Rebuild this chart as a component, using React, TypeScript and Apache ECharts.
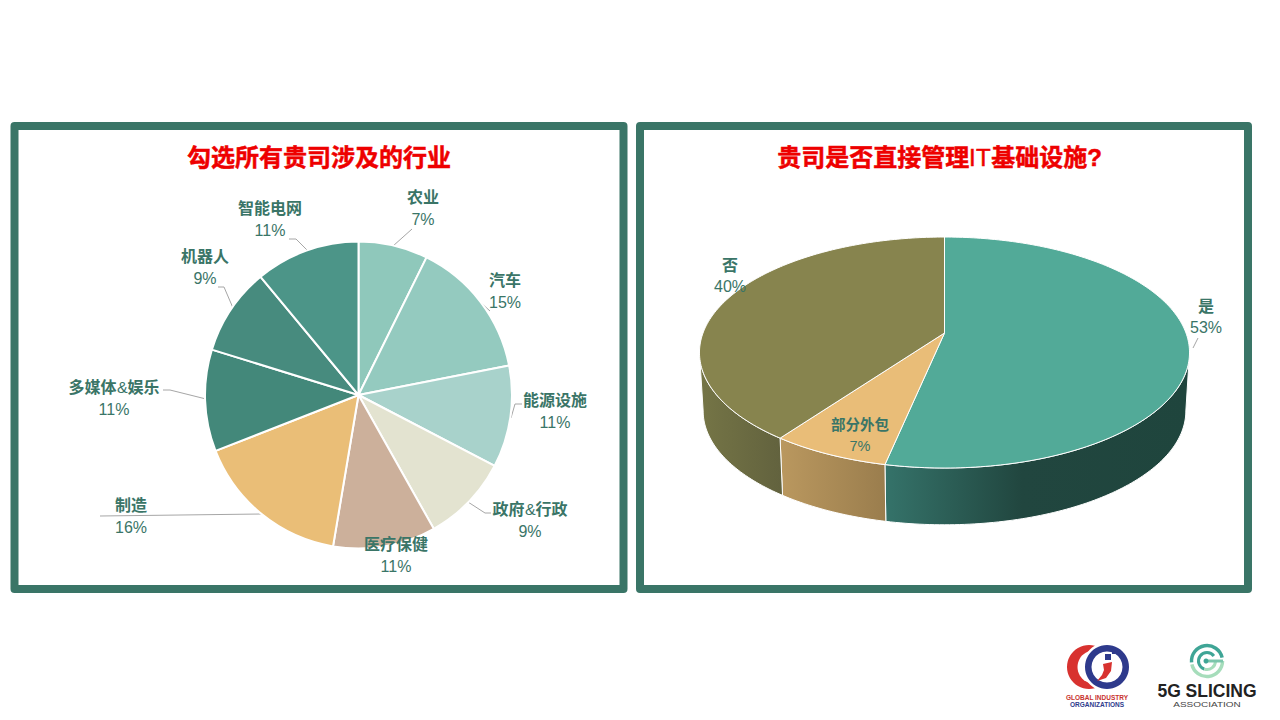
import React, { useEffect, useRef } from "react";
import * as echarts from "echarts";

const industryNames = ["农业", "汽车", "能源设施", "政府&行政", "医疗保健", "制造", "多媒体&娱乐", "机器人", "智能电网"];
const industryValues = [7.3, 14.6, 10.7, 9.2, 10.8, 16.4, 10.7, 9.2, 11.0];
const industryColors = ["#8FC8BB", "#94CABF", "#A8D2CB", "#E3E3D0", "#CCB09B", "#EABE77", "#43887A", "#478B7E", "#4C9588"];

const itNames = ["是", "部分外包", "否"];
const itValues = [53.3, 6.7, 40.0];
const itTopColors = ["#52AA98", "#E9BD78", "#87844E"];
const itWallStops = [
  [[0, "#35736A"], [0.45, "#21463F"], [1, "#1F453D"]],
  [[0, "#BA985F"], [1, "#9A7D4D"]],
  [[0, "#757546"], [1, "#62623E"]],
];

const titleLeft = "勾选所有贵司涉及的行业";
const titleRight = "贵司是否直接管理IT基础设施?";

const GREEN = "#3A7567";
const GUIDE = "#A6A6A6";
const LABEL_FONT = "ThinLatin, 'Noto Sans CJK SC', sans-serif";
const PCT_FONT = "'Liberation Sans', sans-serif";
const TITLE_FONT = "ThinLatin, 'Liberation Sans', 'Noto Sans CJK SC', sans-serif";

// label anchor positions and guide lines (layout only)
const industryLabelPos = [[423, 207], [505, 290], [555, 410], [530, 519], [396, 554], [131, 515], [114, 397], [205, 266], [270, 218]];
const industryGuides: number[][][] = [
  [[393, 246], [412, 229]],
  [[490, 311], [480, 302]],
  [[511, 418], [515, 404], [522, 404]],
  [[468, 502], [485, 513], [491, 513]],
  [],
  [[262, 514], [100, 516]],
  [[206, 399], [170, 390], [163, 390]],
  [[233, 308], [224, 287], [218, 287]],
  [[307, 250], [296, 239], [289, 239]],
];
const itLabelPos = [[1206, 316], [860, 435], [730, 275]];
const itLabelSize = [16, 14.5, 16];

// perspective disc geometry
const DISC = { cx: 944.5, apexY: 333, a: 241.5, b: 112.2, k: 0.169, wallDrop: 58.5, wallScale: 0.985, midY: 352.5 };
const proj = (deg: number) => {
  const t = (deg * Math.PI) / 180;
  const X = Math.sin(t), Y = Math.cos(t);
  const w = 1 + DISC.k * Y;
  return [DISC.cx + (DISC.a * X) / w, DISC.apexY - (DISC.b * Y) / w];
};
const floorOf = (p: number[]) => [
  DISC.cx + (p[0] - DISC.cx) * DISC.wallScale,
  DISC.midY + (p[1] - DISC.midY) * DISC.wallScale + DISC.wallDrop,
];
const arcPts = (a0: number, a1: number) => {
  const out: number[][] = [];
  const n = Math.max(2, Math.ceil(Math.abs(a1 - a0)));
  for (let i = 0; i <= n; i++) out.push(proj(a0 + ((a1 - a0) * i) / n));
  return out;
};
const sliceSpan = (i: number) => {
  const total = itValues.reduce((s, v) => s + v, 0);
  const before = itValues.slice(0, i).reduce((s, v) => s + v, 0);
  return [(before / total) * 360, ((before + itValues[i]) / total) * 360];
};

const FACE_CSS = `@font-face{font-family:ThinLatin;src:local("Liberation Sans");font-weight:700;unicode-range:U+26,U+49,U+54;}`;

const logos = [
  // GIO logo
  { type: "circle", shape: { cx: 1089, cy: 667, r: 22 }, style: { fill: "#D8322F" } },
  { type: "circle", shape: { cx: 1094, cy: 667, r: 16.5 }, style: { fill: "#fff" } },
  { type: "circle", shape: { cx: 1107, cy: 667, r: 24.5 }, style: { fill: "#fff" } },
  { type: "ring", shape: { cx: 1107, cy: 667, r: 22, r0: 15.5 }, style: { fill: "#2E3A8C" } },
  { type: "polygon", shape: { points: [[1103, 664], [1112, 662], [1111, 671], [1106, 678], [1097, 681], [1102, 675], [1104, 670]] }, style: { fill: "#D8322F" } },
  { type: "rect", shape: { x: 1105, y: 654, width: 6, height: 6 }, style: { fill: "#2E3A8C" } },
  { type: "rect", shape: { x: 1112, y: 651, width: 3, height: 3 }, style: { fill: "#2E3A8C" } },
  { type: "text", x: 1097, y: 697, style: { text: "GLOBAL INDUSTRY", align: "center", verticalAlign: "middle", fontSize: 6.5, fontWeight: "bold", fontFamily: PCT_FONT, fill: "#C8322E" } },
  { type: "text", x: 1097, y: 704.5, style: { text: "ORGANIZATIONS", align: "center", verticalAlign: "middle", fontSize: 6.5, fontWeight: "bold", fontFamily: PCT_FONT, fill: "#2E3A8C" } },
  // 5G Slicing logo
  { type: "arc", shape: { cx: 1207, cy: 661, r: 15.5, startAngle: Math.PI * 0.97, endAngle: Math.PI * 1.93, clockwise: true }, style: { stroke: "#3FA596", lineWidth: 3.5, fill: "none" } },
  { type: "arc", shape: { cx: 1207, cy: 661, r: 15.5, startAngle: 0, endAngle: Math.PI * 0.93, clockwise: true }, style: { stroke: "#A6DDBB", lineWidth: 3.5, fill: "none" } },
  { type: "arc", shape: { cx: 1207, cy: 661, r: 8.5, startAngle: Math.PI * 0.6, endAngle: Math.PI * 1.8, clockwise: true }, style: { stroke: "#3FA596", lineWidth: 3, fill: "none" } },
  { type: "arc", shape: { cx: 1207, cy: 661, r: 8.5, startAngle: 0, endAngle: Math.PI * 0.6, clockwise: true }, style: { stroke: "#A6DDBB", lineWidth: 3, fill: "none" } },
  { type: "line", shape: { x1: 1206, y1: 661, x2: 1223, y2: 661 }, style: { stroke: "#7CC6AC", lineWidth: 3 } },
  { type: "circle", shape: { cx: 1206, cy: 661, r: 2.5 }, style: { fill: "#3FA596" } },
  { type: "text", x: 1207, y: 691, style: { text: "5G SLICING", align: "center", verticalAlign: "middle", fontSize: 17.5, fontWeight: "bold", fontFamily: PCT_FONT, fill: "#222" } },
  { type: "text", x: 1207, y: 704, scaleX: 1.25, style: { text: "ASSOCIATION", align: "center", verticalAlign: "middle", fontSize: 8, fontFamily: PCT_FONT, fill: "#444" } },
];

export default function App() {
  const ref = useRef<HTMLDivElement>(null);
  useEffect(() => {
    const styleEl = document.createElement("style");
    styleEl.textContent = FACE_CSS;
    document.head.appendChild(styleEl);
    const chart = echarts.init(ref.current!, null, { renderer: "svg", width: 1280, height: 720 });
    const textOf = (x: number, y: number, text: string, bold: boolean, size: number) => ({
      type: "text",
      style: {
        x, y, text,
        align: "center", verticalAlign: "middle", fontSize: size,
        fontWeight: bold ? 700 : 400,
        fontFamily: bold ? LABEL_FONT : PCT_FONT,
        fill: GREEN,
      },
    });
    const titleStyle = { fontSize: 24, fontWeight: 700, color: "#EE0000", fontFamily: TITLE_FONT, textBorderColor: "#EE0000", textBorderWidth: 0.5 };
    chart.setOption({
      animation: false,
      backgroundColor: "#fff",
      title: [
        { text: titleLeft, left: 314, top: 152, textAlign: "center", textVerticalAlign: "middle", textStyle: titleStyle },
        { text: titleRight, left: 934.5, top: 152, textAlign: "center", textVerticalAlign: "middle", textStyle: titleStyle },
      ],
      graphic: {
        elements: [
          { type: "rect", silent: true, z: 0, shape: { x: 14.5, y: 126, width: 609, height: 463 }, style: { fill: "#fff", stroke: GREEN, lineWidth: 8, lineJoin: "round" } },
          { type: "rect", silent: true, z: 0, shape: { x: 640, y: 126, width: 608, height: 463 }, style: { fill: "#fff", stroke: GREEN, lineWidth: 8, lineJoin: "round" } },
          ...logos.map((l) => ({ silent: true, z: 1, ...l })),
        ],
      },
      series: [
        {
          type: "pie",
          center: [358.5, 395],
          radius: [0, 153.5],
          startAngle: 90,
          clockwise: true,
          avoidLabelOverlap: false,
          silent: true,
          data: industryNames.map((name, i) => ({
            name,
            value: industryValues[i],
            itemStyle: { color: industryColors[i] },
            labelLine: { show: industryGuides[i].length > 0 },
          })),
          itemStyle: { borderColor: "#fff", borderWidth: 2 },
          label: {
            position: "outside",
            formatter: (p: any) => `{n|${p.name}}\n{v|${Math.round(p.value)}%}`,
            rich: {
              n: { fontSize: 16, fontWeight: 700, fontFamily: LABEL_FONT, color: GREEN, lineHeight: 25, align: "center" },
              v: { fontSize: 16, fontWeight: 400, fontFamily: PCT_FONT, color: GREEN, lineHeight: 23, align: "center" },
            },
          },
          labelLine: { show: true, lineStyle: { color: GUIDE, width: 1 } },
          labelLayout: (p: any) => ({
            x: industryLabelPos[p.dataIndex][0],
            y: industryLabelPos[p.dataIndex][1],
            align: "center",
            verticalAlign: "middle",
            labelLinePoints: industryGuides[p.dataIndex].length ? industryGuides[p.dataIndex] : undefined,
          }),
        },
        {
          type: "custom",
          coordinateSystem: "none",
          silent: true,
          data: itNames.map((name, i) => ({ name, value: [itValues[i], i] })),
          renderItem: (params: any) => {
            const i = params.dataIndex;
            const [a0, a1] = sliceSpan(i);
            const lo = Math.max(a0, 99.7), hi = Math.min(a1, 260.3);
            if (hi <= lo) return { type: "group", children: [] };
            const topEdge = arcPts(lo, hi);
            const floorEdge = topEdge.map(floorOf).reverse();
            return {
              type: "polygon",
              shape: { points: [...topEdge, ...floorEdge] },
              style: {
                fill: new echarts.graphic.LinearGradient(0, 0, 1, 0, itWallStops[i].map(([offset, color]) => ({ offset, color })) as any),
                stroke: "#fff",
                lineWidth: 1,
              },
            };
          },
        },
        {
          type: "custom",
          coordinateSystem: "none",
          silent: true,
          data: itNames.map((name, i) => ({ name, value: [itValues[i], i] })),
          renderItem: (params: any, api: any) => {
            const i = params.dataIndex;
            const [a0, a1] = sliceSpan(i);
            const pts = [[DISC.cx, DISC.apexY], ...arcPts(a0, a1)];
            const [lx, ly] = itLabelPos[i];
            const children: any[] = [
              { type: "polygon", shape: { points: pts }, style: { fill: itTopColors[i], stroke: "#fff", lineWidth: 1 } },
              textOf(lx, ly - 11.5, itNames[i], true, itLabelSize[i]),
              textOf(lx, ly + 11, `${Math.round(api.value(0))}%`, false, itLabelSize[i]),
            ];
            if (i === 0) {
              children.push({ type: "line", shape: { x1: 1193, y1: 348, x2: 1198, y2: 338 }, style: { stroke: GUIDE, lineWidth: 1 } });
            }
            return { type: "group", children };
          },
        },
      ],
    });
    return () => {
      chart.dispose();
      styleEl.remove();
    };
  }, []);
  return <div ref={ref} style={{ position: "fixed", left: 0, top: 0, width: 1280, height: 720 }} />;
}
